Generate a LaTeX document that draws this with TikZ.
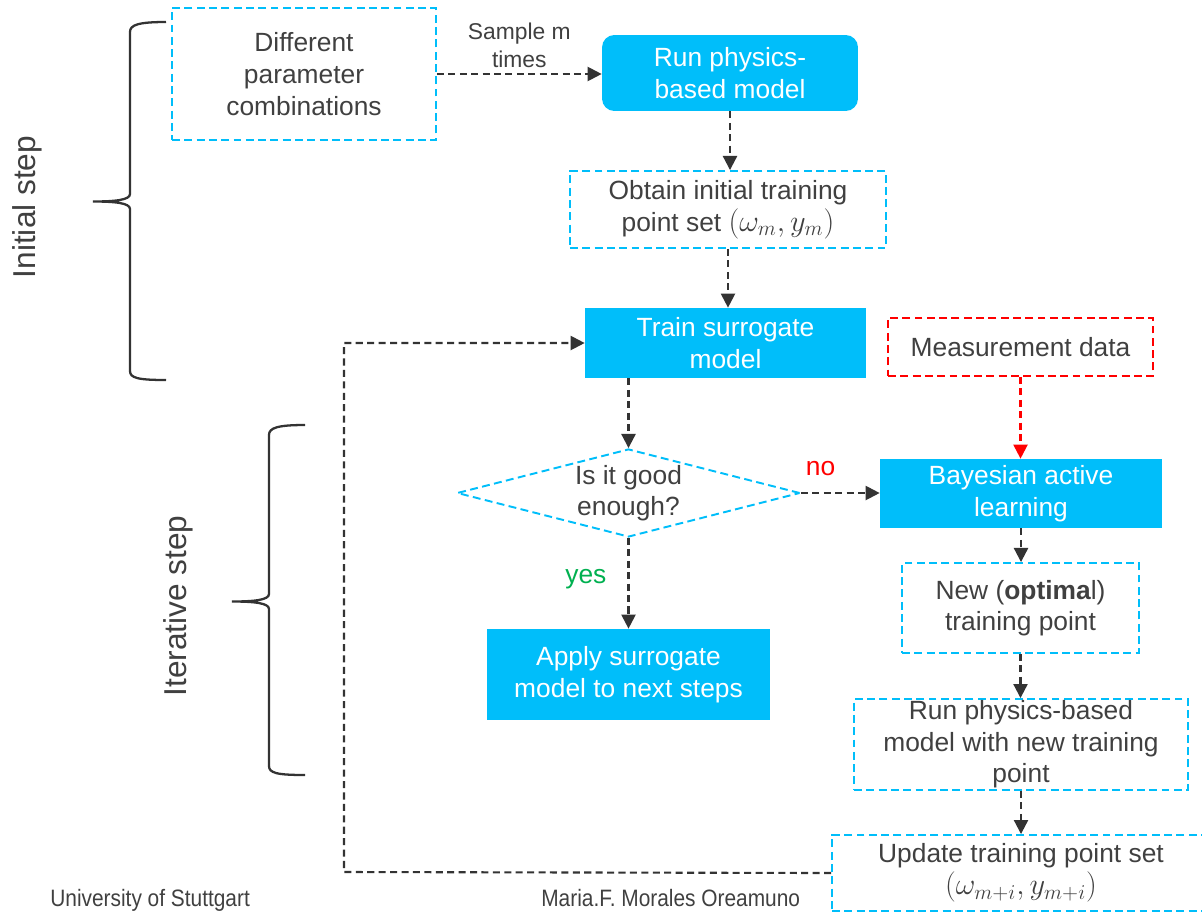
\documentclass[tikz,border=0pt]{standalone}
\usepackage{fontspec}
\setmainfont{Liberation Sans}
\newfontfamily\narrowfont{Liberation Sans}[FakeStretch=0.88]
\usetikzlibrary{arrows.meta,shapes.geometric}
\definecolor{skyblue}{RGB}{0,190,250}
\definecolor{arrowgray}{RGB}{51,51,51}
\definecolor{textgray}{RGB}{64,64,64}
\definecolor{measred}{RGB}{255,0,0}
\definecolor{yesgreen}{RGB}{0,176,80}
\newcommand{\bigmath}[1]{{\fontsize{17}{18}\selectfont$#1$}}
\begin{document}
\begin{tikzpicture}[x=0.02cm,y=-0.02cm,
    font=\fontsize{15}{18}\selectfont,
    dashbox/.style={draw=skyblue,line width=1.1pt,dash pattern=on 4.5pt off 2.5pt,
      text=textgray,align=center,inner sep=0pt},
    fillbox/.style={fill=skyblue,text=white,align=center,inner sep=0pt},
    flow/.style={draw=arrowgray,line width=1.2pt,dash pattern=on 4pt off 2.5pt,
      -{Triangle[length=8pt,width=8pt]}},
    bracket/.style={draw=arrowgray,line width=1.3pt}]
  \useasboundingbox (0,0) rectangle (1202,913);
  \draw
    (304,74) node[dashbox,minimum width=5.28cm,minimum height=2.64cm] (params){Different\\parameter\\combinations}
    (730,73) node[fillbox,rounded corners=7pt,minimum width=5.12cm,minimum height=1.52cm] (runphys){Run physics-\\based model}
    (728,209.5) node[dashbox,minimum width=6.32cm,minimum height=1.54cm] (obtain){Obtain initial training\\point set \bigmath{(\omega_m,y_m)}}
    (725.5,343) node[fillbox,minimum width=5.62cm,minimum height=1.40cm] (train){Train surrogate\\model}
    (1020.5,347) node[dashbox,draw=measred,minimum width=5.30cm,minimum height=1.16cm] (meas){Measurement data}
    (628.5,493) node[dashbox,diamond,minimum width=6.86cm,minimum height=1.76cm,
      label={[align=center,text=textgray]center:Is it good\\enough?}] (good){}
    (1021,493.5) node[fillbox,minimum width=5.64cm,minimum height=1.38cm] (bal){Bayesian active\\learning}
    (628.5,674.5) node[fillbox,minimum width=5.66cm,minimum height=1.82cm] (apply){Apply surrogate\\model to next steps}
    (1020.5,608) node[dashbox,minimum width=4.74cm,minimum height=1.80cm] (newpt){New (\textbf{optima}l)\\training point}
    (1021,744.5) node[dashbox,minimum width=6.68cm,minimum height=1.82cm] (runnew){Run physics-based\\model with new training\\point}
    (1021,873) node[dashbox,minimum width=7.56cm,minimum height=1.52cm] (update){Update training point set\\\bigmath{(\omega_{m+i},y_{m+i})}};
  \coordinate (loop) at (344,872);
  \begin{scope}[flow]
    \draw (params.east) -- (params.east -| runphys.west)
      node[midway,above,inner sep=3pt,align=center,text=textgray,
        font=\fontsize{13}{16}\selectfont] (sample){Sample m\\times};
    \draw (runphys.south) -- (runphys.south |- obtain.north);
    \draw (obtain.south) -- (obtain.south |- train.north);
    \draw (train.south -| good.north) -- (good.north);
    \draw (good.east) -- (good.east -| bal.west)
      node[pos=0.25,above,inner sep=9pt,text=measred] (no){no};
    \draw (good.south) -- (apply.north)
      node[pos=0.45,left,inner sep=12pt,text=yesgreen] (yes){yes};
    \draw[draw=measred] (meas.south) -- (meas.south |- bal.north);
    \draw (bal.south) -- (bal.south |- newpt.north);
    \draw (newpt.south) -- (newpt.south |- runnew.north);
    \draw (runnew.south) -- (runnew.south |- update.north);
    \draw (update.west) -- (loop) |- (train.west);
  \end{scope}
  % braces
  \draw[bracket] (166,22) .. controls (138,22) and (130,25) .. (130,32) -- (130,194)
    .. controls (130,200) and (115,201.5) .. (93,201.5)
    .. controls (115,201.5) and (130,203) .. (130,209) -- (130,371)
    .. controls (130,378) and (138,380) .. (166,380);
  \draw[bracket] (305,425) .. controls (277,425) and (269,428) .. (269,435) -- (269,594)
    .. controls (269,600) and (254,601.5) .. (232,601.5)
    .. controls (254,601.5) and (269,603) .. (269,609) -- (269,766)
    .. controls (269,773) and (277,775) .. (305,775);
  \node[rotate=90,text=textgray,font=\fontsize{18}{21}\selectfont] (initlabel) at (27,207) {Initial step};
  \node[rotate=90,text=textgray,font=\fontsize{18}{21}\selectfont] (iterlabel) at (178,606) {Iterative step};
  % footer
  \node[anchor=base west,inner sep=0pt,text=textgray,font=\narrowfont\fontsize{13.5}{16}\selectfont] (uni) at (50,906) {University of Stuttgart};
  \node[anchor=base west,inner sep=0pt,text=textgray,font=\narrowfont\fontsize{13.5}{16}\selectfont] (author) at (541,906) {Maria.F. Morales Oreamuno};
\end{tikzpicture}
\end{document}
